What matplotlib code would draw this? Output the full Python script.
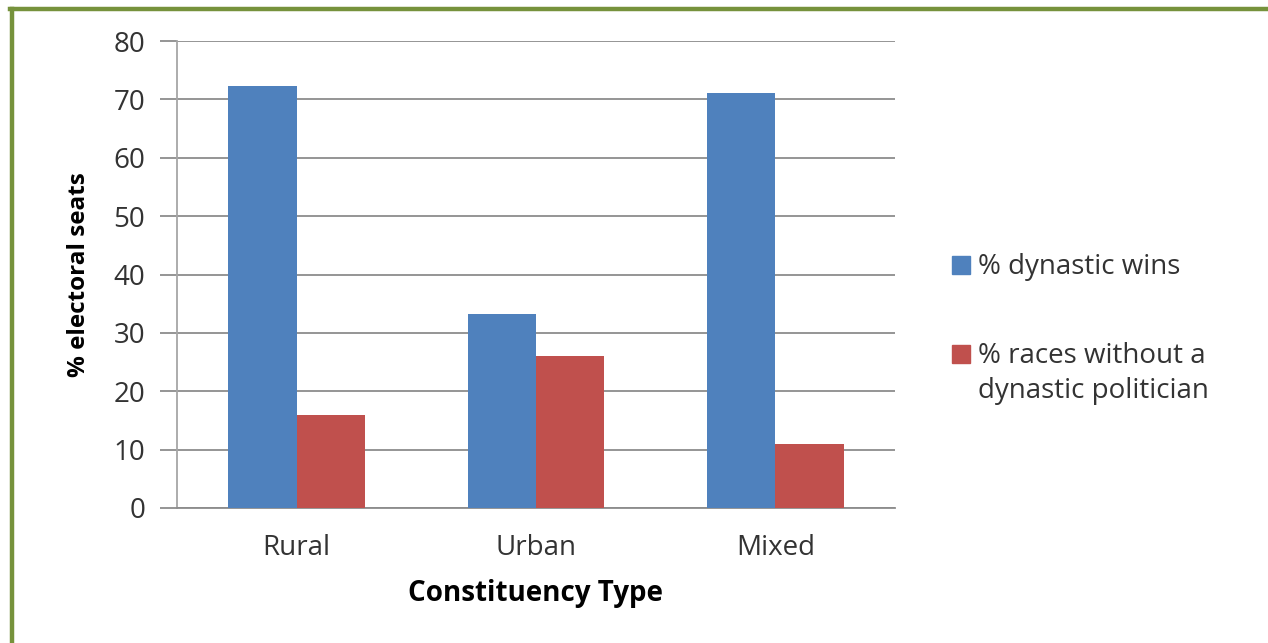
import matplotlib
matplotlib.use("Agg")
import matplotlib.pyplot as plt
from matplotlib.lines import Line2D
from matplotlib.patches import Rectangle
import numpy as np

# data
categories = ["Rural", "Urban", "Mixed"]
dynastic_wins = [72.3, 33.2, 71.1]
races_without = [15.9, 26.0, 11.0]
series_labels = ["% dynastic wins", "% races without a\ndynastic politician"]
series_colors = ['#4f81bd', '#c0504d']

plt.rcParams['font.family'] = ['Open Sans', 'DejaVu Sans']

W, H = 1268, 643
fig = plt.figure(figsize=(W / 100, H / 100), dpi=100)
ax = fig.add_axes([177 / W, 1 - 508 / H, (895 - 177) / W, (508 - 41) / H])

x = np.arange(len(categories))
width = 0.285
ax.bar(x - width / 2, dynastic_wins, width, color=series_colors[0], zorder=3)
ax.bar(x + width / 2, races_without, width, color=series_colors[1], zorder=3)

ax.set_xlim(-0.5, 2.5)
ax.set_ylim(0, 80)
ax.set_yticks(range(0, 81, 10))
ax.set_xticks(x)
ax.set_xticklabels(categories)
ax.grid(axis='y', color='#8c8c8c', linewidth=1.3, zorder=0)
ax.set_axisbelow(True)

for s in ['top', 'right']:
    ax.spines[s].set_visible(False)
ax.spines['left'].set_color('#a6a6a6')
ax.spines['left'].set_linewidth(1.3)
ax.spines['bottom'].set_color('#8c8c8c')
ax.spines['bottom'].set_linewidth(1.3)

ax.tick_params(axis='y', length=12, width=1.3, color='#8c8c8c', labelsize=20,
               labelcolor='#333333', pad=11)
ax.tick_params(axis='x', length=0, labelsize=20, labelcolor='#333333', pad=19)

ax.set_xlabel("Constituency Type", fontsize=20, fontweight='bold', labelpad=12)
ax.set_ylabel("% electoral seats", fontsize=17.5, fontweight='bold', labelpad=16)

# legend drawn by hand so the square lines up with the first text line
legend_y = [265, 354]
for i, (lab, col) in enumerate(zip(series_labels, series_colors)):
    yc = legend_y[i]
    fig.add_artist(Rectangle((952 / W, 1 - (yc + 9) / H), 18 / W, 18 / H,
                             color=col, transform=fig.transFigure))
    for k, line in enumerate(lab.split("\n")):
        fig.text(978 / W, 1 - (yc + 9 + 35 * k) / H, line, fontsize=20, color='#333333',
                 va='baseline', ha='left')

# green frame around the chart (top and left edge visible)
green = '#76923c'
fig.add_artist(Line2D([10 / W, 1], [1 - 9 / H, 1 - 9 / H], color=green, linewidth=3.2,
                      transform=fig.transFigure))
fig.add_artist(Line2D([12 / W, 12 / W], [1 - 9 / H, 0], color=green, linewidth=3.2,
                      transform=fig.transFigure))

fig.savefig("out.png", dpi=100)
